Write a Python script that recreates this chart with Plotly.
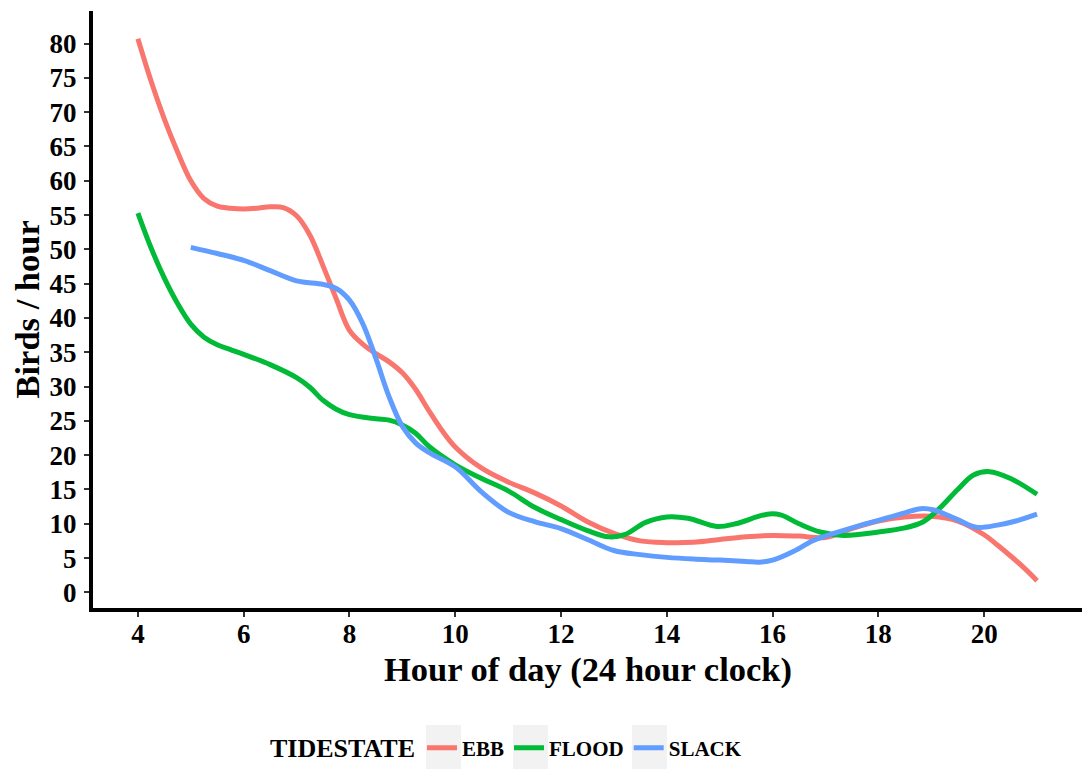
import plotly.graph_objects as go

# ---- data ----
ebb_hours = [4.0, 4.25, 4.5, 4.75, 5.0, 5.25, 5.5, 5.75, 6.0, 6.25, 6.5, 6.75, 7.0, 7.25, 7.5, 7.75,
             8.0, 8.25, 8.5, 8.75, 9.0, 9.25, 9.5, 9.75, 10.0, 10.5, 11.0, 11.5, 12.0, 12.5, 13.0,
             13.5, 14.0, 14.5, 15.0, 15.5, 16.0, 16.5, 17.0, 17.5, 18.0, 18.5, 19.0, 19.5, 20.0,
             20.25, 20.5, 20.75, 21.0]
ebb_values = [80.7, 74.5, 69.0, 64.2, 60.0, 57.4, 56.3, 56.0, 55.9, 56.0, 56.2, 56.1, 54.9, 52.1, 47.6, 42.8,
              38.2, 36.2, 34.8, 33.6, 32.0, 29.6, 26.5, 23.6, 21.2, 18.1, 16.1, 14.5, 12.6, 10.3, 8.6,
              7.5, 7.25, 7.3, 7.7, 8.1, 8.3, 8.2, 8.0, 9.3, 10.4, 11.0, 11.1, 10.4, 8.4,
              6.9, 5.3, 3.6, 1.7]

flood_hours = [4.0, 4.25, 4.5, 4.75, 5.0, 5.25, 5.5, 5.75, 6.0, 6.5, 7.0, 7.25, 7.5, 7.75, 8.0, 8.5,
               8.75, 9.0, 9.25, 9.5, 10.0, 10.5, 11.0, 11.5, 12.0, 12.5, 12.9, 13.2, 13.6, 14.0, 14.4,
               14.95, 15.3, 15.9, 16.15, 16.5, 16.9, 17.35, 18.0, 18.5, 18.85, 19.15, 19.5, 19.8,
               20.1, 20.5, 21.0]
flood_values = [55.3, 50.2, 45.8, 42.1, 39.1, 37.2, 36.1, 35.4, 34.7, 33.2, 31.3, 29.9, 28.0, 26.7, 25.9, 25.3,
                25.1, 24.4, 23.2, 21.3, 18.6, 16.6, 14.8, 12.4, 10.6, 9.0, 8.1, 8.4, 10.2, 11.0, 10.8,
                9.6, 10.0, 11.4, 11.3, 10.0, 8.8, 8.3, 8.8, 9.4, 10.3, 12.2, 15.0, 17.1,
                17.6, 16.6, 14.3]

slack_hours = [5.0, 5.5, 6.0, 6.5, 7.0, 7.5, 7.75, 8.0, 8.25, 8.5, 8.75, 9.0, 9.25, 9.5, 10.0, 10.5,
               11.0, 11.5, 12.0, 12.5, 13.0, 13.5, 14.0, 14.5, 15.0, 15.5, 15.75, 16.0, 16.4, 16.75,
               17.0, 17.5, 18.0, 18.5, 18.8, 19.05, 19.5, 19.85, 20.25, 20.6, 21.0]
slack_values = [50.3, 49.4, 48.4, 46.9, 45.4, 44.9, 44.3, 42.6, 39.2, 34.1, 28.5, 24.2, 21.8, 20.4, 18.3, 14.6,
                11.7, 10.3, 9.3, 7.7, 6.1, 5.5, 5.1, 4.85, 4.7, 4.5, 4.4, 4.7, 6.0, 7.5,
                8.2, 9.4, 10.5, 11.6, 12.2, 12.0, 10.6, 9.5, 9.8, 10.4, 11.4]

series_names = ["EBB", "FLOOD", "SLACK"]
series_colors = ["#F8766D", "#00BA38", "#619CFF"]

x_ticks = [4, 6, 8, 10, 12, 14, 16, 18, 20]
y_ticks = list(range(0, 81, 5))

SERIF = "Liberation Serif"
W, H = 1082, 769
ML, MR, MT, MB = 93, 0, 11, 161
PW, PH = W - ML - MR, H - MT - MB


def px_to_paper_x(px):
    return (px - ML) / PW


def px_to_paper_y(py):
    return (H - MB - py) / PH


fig = go.Figure()
for name, xs, ys, col in zip(series_names,
                             [ebb_hours, flood_hours, slack_hours],
                             [ebb_values, flood_values, slack_values],
                             series_colors):
    fig.add_trace(go.Scatter(x=xs, y=ys, mode="lines", name=name,
                             line=dict(color=col, width=5, shape="spline", smoothing=1.0)))

axis_common = dict(
    showgrid=False, zeroline=False, showline=True, linecolor="black", linewidth=4,
    ticks="outside", ticklen=5, tickwidth=1.5, tickcolor="#333333", automargin=False,
    tickfont=dict(family=SERIF, size=27, color="black", weight="bold"),
)

# grey legend-key backgrounds (ggplot style), left pixel edge of each key
key_left_px = [426, 513, 632]
shapes = [dict(type="rect", xref="paper", yref="paper", layer="below",
               x0=px_to_paper_x(k), x1=px_to_paper_x(k + 35),
               y0=px_to_paper_y(725), y1=px_to_paper_y(772),
               fillcolor="#F2F2F2", line=dict(width=0))
          for k in key_left_px]

fig.update_layout(
    template="none",
    width=W, height=H,
    margin=dict(l=ML, r=MR, t=MT, b=MB),
    paper_bgcolor="white", plot_bgcolor="white",
    xaxis=dict(range=[3.151, 21.85], tickvals=x_ticks, ticklabelstandoff=-6, **axis_common),
    yaxis=dict(range=[-2.28, 84.75], tickvals=y_ticks, ticklabelstandoff=2, **axis_common),
    showlegend=True,
    legend=dict(
        orientation="h", xref="container", yref="container",
        x=422 / W, xanchor="left",
        y=(H - 748) / H, yanchor="middle",
        font=dict(family=SERIF, size=21, color="black", weight="bold"),
        itemwidth=30, bgcolor="rgba(0,0,0,0)",
    ),
    shapes=shapes,
    annotations=[
        dict(text="TIDESTATE", xref="paper", yref="paper",
             x=px_to_paper_x(268), y=px_to_paper_y(748), xanchor="left", yanchor="middle",
             showarrow=False,
             font=dict(family=SERIF, size=26, color="black", weight="bold")),
        dict(text="Hour of day (24 hour clock)", xref="paper", yref="paper",
             x=0.5, y=px_to_paper_y(669), xanchor="center", yanchor="middle", showarrow=False,
             font=dict(family=SERIF, size=34.5, color="black", weight="bold")),
        dict(text="Birds / hour", xref="paper", yref="paper",
             x=px_to_paper_x(26), y=0.5, xanchor="center", yanchor="middle", showarrow=False,
             textangle=-90,
             font=dict(family=SERIF, size=34.5, color="black", weight="bold")),
    ],
)

fig.write_html("out.html", config={"displayModeBar": False},
               post_script="document.body.style.margin='0';")
